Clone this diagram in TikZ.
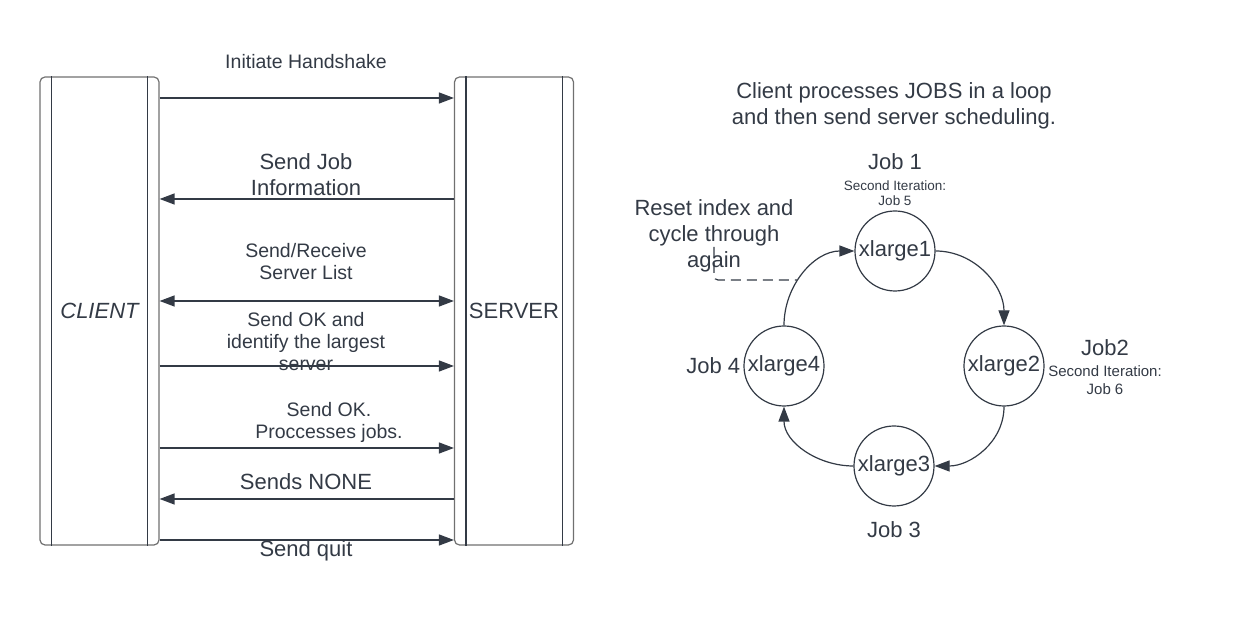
\documentclass[tikz,border=0pt]{standalone}
\usepackage{fontspec}
\setmainfont{Liberation Sans}
\usetikzlibrary{arrows.meta,positioning}
\definecolor{ink}{HTML}{333A45}
\definecolor{frame}{HTML}{707070}

\begin{document}
\begin{tikzpicture}[x=1pt, y=1pt,
    lane/.style={rectangle, draw=frame, line width=1.2pt, rounded corners=5pt, minimum width=119pt, minimum height=468pt, inner sep=0pt, text=ink, font=\fontsize{22}{26}\selectfont},
    msg/.style={draw=ink, line width=1.3pt, -{Triangle[length=15pt,width=11pt]}},
    big/.style={text=ink, font=\fontsize{22}{26}\selectfont, align=center, inner sep=0pt},
    mid/.style={text=ink, font=\fontsize{19.5}{22}\selectfont, align=center, inner sep=0pt},
    small/.style={text=ink, font=\fontsize{13.5}{14.5}\selectfont, align=center, inner sep=0pt},
    jobnode/.style={circle, draw=ink, line width=1.2pt, minimum size=80pt, inner sep=0pt, text=ink, font=\fontsize{22}{26}\selectfont},
    cycle/.style={draw=ink, line width=1.2pt, -{Triangle[length=15pt,width=11pt]}}]
    \useasboundingbox (0,0) rectangle (1240,620);

    %% Client / server lanes
    \node[lane] (client) at (99.5,309) {\itshape CLIENT};
    \node[lane] (server) at (514,309) {SERVER};
    \draw[ink, line width=1.2pt] ([xshift=12pt]client.north west) -- ([xshift=12pt]client.south west);
    \draw[ink, line width=1.2pt] ([xshift=-12pt]client.north east) -- ([xshift=-12pt]client.south east);
    \draw[ink, line width=1.2pt] ([xshift=12pt]server.north west) -- ([xshift=12pt]server.south west);
    \draw[ink, line width=1.2pt] ([xshift=-12pt]server.north east) -- ([xshift=-12pt]server.south east);

    %% Message rows
    \foreach \n/\y in {1/522,2/421,3/319,4/254,5/172,6/121,7/80}
        \coordinate (m\n) at (0,\y);

    \draw[msg] (client.east |- m1) -- (server.west |- m1);
    \draw[msg] (server.west |- m2) -- (client.east |- m2);
    \draw[msg, {Triangle[length=15pt,width=11pt]}-{Triangle[length=15pt,width=11pt]}] (client.east |- m3) -- (server.west |- m3);
    \draw[msg] (client.east |- m4) -- (server.west |- m4);
    \draw[msg] (client.east |- m5) -- (server.west |- m5);
    \draw[msg] (server.west |- m6) -- (client.east |- m6);
    \draw[msg] (client.east |- m7) -- (server.west |- m7);

    %% Message labels
    \node[mid] (handshake) at (306,558) {Initiate Handshake};
    \node[big] (jobinfo) at (306,445) {Send Job\\Information};
    \node[mid] (serverlist) at (306,358) {Send/Receive\\Server List};
    \node[mid] (largest) at (306,278) {Send OK and\\identify the largest\\server};
    \node[mid] (process) at (329,198) {Send OK.\\Proccesses jobs.};
    \node[big] (none) at (306,138) {Sends NONE};
    \node[big] (quit) at (306,69) {Send quit};

    %% Job loop
    \node[big] (title) at (894,514) {Client processes JOBS in a loop\\and then send server scheduling.};

    \node[jobnode] (x1) at (895,369) {xlarge1};
    \node[jobnode] (x2) at (1004,254) {xlarge2};
    \node[jobnode] (x3) at (894,154) {xlarge3};
    \node[jobnode] (x4) at (784,254) {xlarge4};

    \draw[cycle] (x1.east) to[out=0,in=90] (x2.north);
    \draw[cycle] (x2.south) to[out=-90,in=0] (x3.east);
    \draw[cycle] (x3.west) to[out=180,in=-90] (x4.south);
    \draw[cycle] (x4.north) to[out=90,in=180] (x1.west);

    \node[big] (job1) at (895,458) {Job 1};
    \node[small] (iter1) at (895,427) {Second Iteration:\\Job 5};
    \node[big] (job2) at (1105,272) {Job2};
    \node[small, font=\fontsize{15}{18}\selectfont] (iter2) at (1105,240) {Second Iteration:\\Job 6};
    \node[big, left=3pt of x4] (job4) {Job 4};
    \node[big] (job3) at (894,90) {Job 3};

    %% Reset note
    \node[big] (reset) at (714,384) {Reset index and\\cycle through\\again};
    \coordinate (rc) at (797,340);
    \draw[ink, line width=1.2pt, dash pattern=on 10pt off 6pt, rounded corners=4pt] ([yshift=-11pt]reset.center) |- (rc);
\end{tikzpicture}
\end{document}
